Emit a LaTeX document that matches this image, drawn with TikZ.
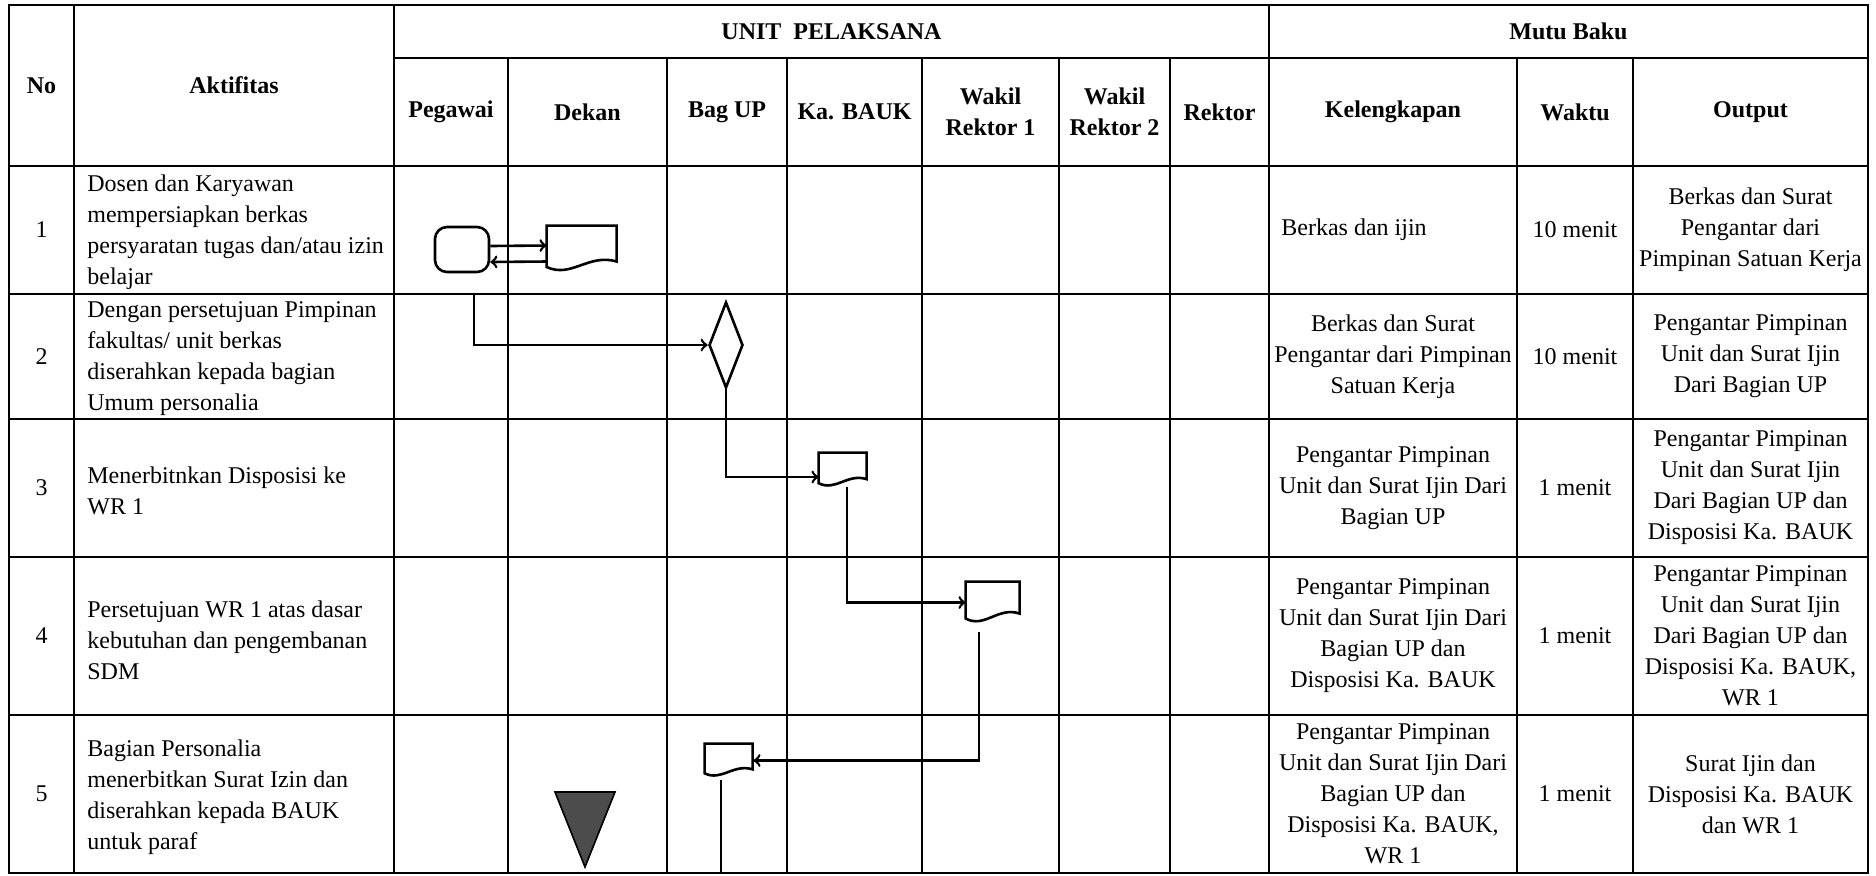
\documentclass[tikz,border=0pt]{standalone}
\usepackage{fontspec}
\setmainfont{Liberation Serif}
\usetikzlibrary{shapes.geometric}

\tikzset{
  garis/.style={line width=0.8pt},
  alur/.style={line width=1.3pt},
  isi/.style={font=\fontsize{12}{15.5}\selectfont, align=center, inner sep=0pt},
  kiri/.style={font=\fontsize{12}{15.5}\selectfont, align=left, anchor=west, inner sep=0pt},
  judul/.style={font=\fontsize{12}{15.5}\selectfont\bfseries, align=center, inner sep=0pt},
  terminal/.style={alur, draw, rounded corners=6pt, minimum width=27pt, minimum height=22.5pt, inner sep=0pt},
  keputusan/.style={alur, draw, diamond, minimum width=17pt, minimum height=43pt, inner sep=0pt},
}

% dokumen: nama, posisi, lebar, tinggi (px)
\newcommand{\dokumen}[4]{%
  \node[minimum width=#3*0.5pt, minimum height=#4*0.5pt, inner sep=0pt] (#1) at #2 {};
  \begin{scope}[shift={(#1.north west)}]
    \draw[alur] (0,0) -- (#3,0) -- (#3,0.78*#4) .. controls (0.6*#3,0.6*#4) and (0.35*#3,1.15*#4) .. (0,0.9*#4) -- cycle;
  \end{scope}
}

\begin{document}
\begin{tikzpicture}[x=0.5pt,y=-0.5pt]
\useasboundingbox (0,0) rectangle (1876,875);

% garis tabel
\draw[garis] (9,5) rectangle (1868,873);
\draw[garis] (394,58) -- (1868,58);
\draw[garis] (9,166) -- (1868,166);
\draw[garis] (9,294) -- (1868,294);
\draw[garis] (9,419) -- (1868,419);
\draw[garis] (9,557) -- (1868,557);
\draw[garis] (9,715) -- (1868,715);
\draw[garis] (74,5) -- (74,873);
\draw[garis] (394,5) -- (394,873);
\draw[garis] (508,58) -- (508,873);
\draw[garis] (667,58) -- (667,873);
\draw[garis] (787,58) -- (787,873);
\draw[garis] (922,58) -- (922,873);
\draw[garis] (1059,58) -- (1059,873);
\draw[garis] (1170,58) -- (1170,873);
\draw[garis] (1269,5) -- (1269,873);
\draw[garis] (1517,58) -- (1517,873);
\draw[garis] (1633,58) -- (1633,873);

% kepala tabel
\node[judul] (no) at (41.5,85.5) {No};
\node[judul] (akt) at (234,85.5) {Aktifitas};
\node[judul] (unit) at (831.5,31.5) {UNIT~~PELAKSANA};
\node[judul] (mutu) at (1568.5,31.5) {Mutu Baku};
\node[judul] (peg) at (451,112) {Pegawai};
\node[judul] (dek) at (587.5,112) {Dekan};
\node[judul] (bup) at (727,112) {Bag UP};
\node[judul] (bauk) at (854.5,112) {Ka. BAUK};
\node[judul] (wr1) at (990.5,112) {Wakil\\Rektor 1};
\node[judul] (wr2) at (1114.5,112) {Wakil\\Rektor 2};
\node[judul] (rek) at (1219.5,112) {Rektor};
\node[judul] (kel) at (1393,112) {Kelengkapan};
\node[judul] (wak) at (1575,112) {Waktu};
\node[judul] (out) at (1750.5,112) {Output};

% nomor
\node[isi] (no1) at (41.5,230) {1};
\node[isi] (no2) at (41.5,356.5) {2};
\node[isi] (no3) at (41.5,488) {3};
\node[isi] (no4) at (41.5,636) {4};
\node[isi] (no5) at (41.5,794) {5};

% aktifitas
\node[kiri] (akt1) at (87,232) {Dosen dan Karyawan\\mempersiapkan berkas\\persyaratan tugas dan/atau izin\\belajar};
\node[kiri] (akt2) at (87,359) {Dengan persetujuan Pimpinan\\fakultas/ unit berkas\\diserahkan kepada bagian\\Umum personalia};
\node[kiri] (akt3) at (87,491) {Menerbitnkan Disposisi ke\\WR 1};
\node[kiri] (akt4) at (87,640) {Persetujuan WR 1 atas dasar\\kebutuhan dan pengembanan\\SDM};
\node[kiri] (akt5) at (87,797) {Bagian Personalia\\menerbitkan Surat Izin dan\\diserahkan kepada BAUK\\untuk paraf};

% kelengkapan
\node[kiri] (kel1) at (1281,230) {Berkas dan ijin};
\node[isi] (kel2) at (1393,356.5) {Berkas dan Surat\\Pengantar dari Pimpinan\\Satuan Kerja};
\node[isi] (kel3) at (1393,488) {Pengantar Pimpinan\\Unit dan Surat Ijin Dari\\Bagian UP};
\node[isi] (kel4) at (1393,636) {Pengantar Pimpinan\\Unit dan Surat Ijin Dari\\Bagian UP dan\\Disposisi Ka. BAUK};
\node[isi] (kel5) at (1393,794) {Pengantar Pimpinan\\Unit dan Surat Ijin Dari\\Bagian UP dan\\Disposisi Ka. BAUK,\\WR 1};

% waktu
\node[isi] (wkt1) at (1575,230) {10 menit};
\node[isi] (wkt2) at (1575,356.5) {10 menit};
\node[isi] (wkt3) at (1575,488) {1 menit};
\node[isi] (wkt4) at (1575,636) {1 menit};
\node[isi] (wkt5) at (1575,794) {1 menit};

% output
\node[isi] (out1) at (1750.5,230) {Berkas dan Surat\\Pengantar dari\\Pimpinan Satuan Kerja};
\node[isi] (out2) at (1750.5,356.5) {Pengantar Pimpinan\\Unit dan Surat Ijin\\Dari Bagian UP};
\node[isi] (out3) at (1750.5,488) {Pengantar Pimpinan\\Unit dan Surat Ijin\\Dari Bagian UP dan\\Disposisi Ka. BAUK};
\node[isi] (out4) at (1750.5,636) {Pengantar Pimpinan\\Unit dan Surat Ijin\\Dari Bagian UP dan\\Disposisi Ka. BAUK,\\WR 1};
\node[isi] (out5) at (1750.5,794) {Surat Ijin dan\\Disposisi Ka. BAUK\\dan WR 1};

% bagan alir
\node[terminal] (t1) at (462,249.5) {};
\dokumen{d1}{(582,249)}{70}{46}
\node[keputusan] (k1) at (726,345) {};
\dokumen{d2}{(843,470)}{48}{34}
\dokumen{d3}{(993,602.5)}{54}{41}
\dokumen{d4}{(729,760.5)}{48}{33}
\coordinate (mulai) at (474,294);
\coordinate (akhir) at (721,873);

\draw[alur,->] ([yshift=1.75pt]t1.east) -- ([yshift=1.75pt]d1.west);
\draw[alur,->] ([yshift=-6.25pt]d1.west) -- ([yshift=-6.25pt]t1.east);
\draw[alur,->] (mulai) |- (k1.west);
\draw[alur,->] (k1.south) |- ([yshift=-3.5pt]d2.west);
\draw[alur,->] ([xshift=2pt]d2.south) |- (d3.west);
\draw[alur,->] ([xshift=-7pt,yshift=-4.5pt]d3.south) |- (d4.east);
\draw[alur] ([xshift=-4pt,yshift=-1.5pt]d4.south) -- (akhir);

\filldraw[garis, fill=black!70] (555,792) -- (615,792) -- (585,867) -- cycle;
\end{tikzpicture}
\end{document}
